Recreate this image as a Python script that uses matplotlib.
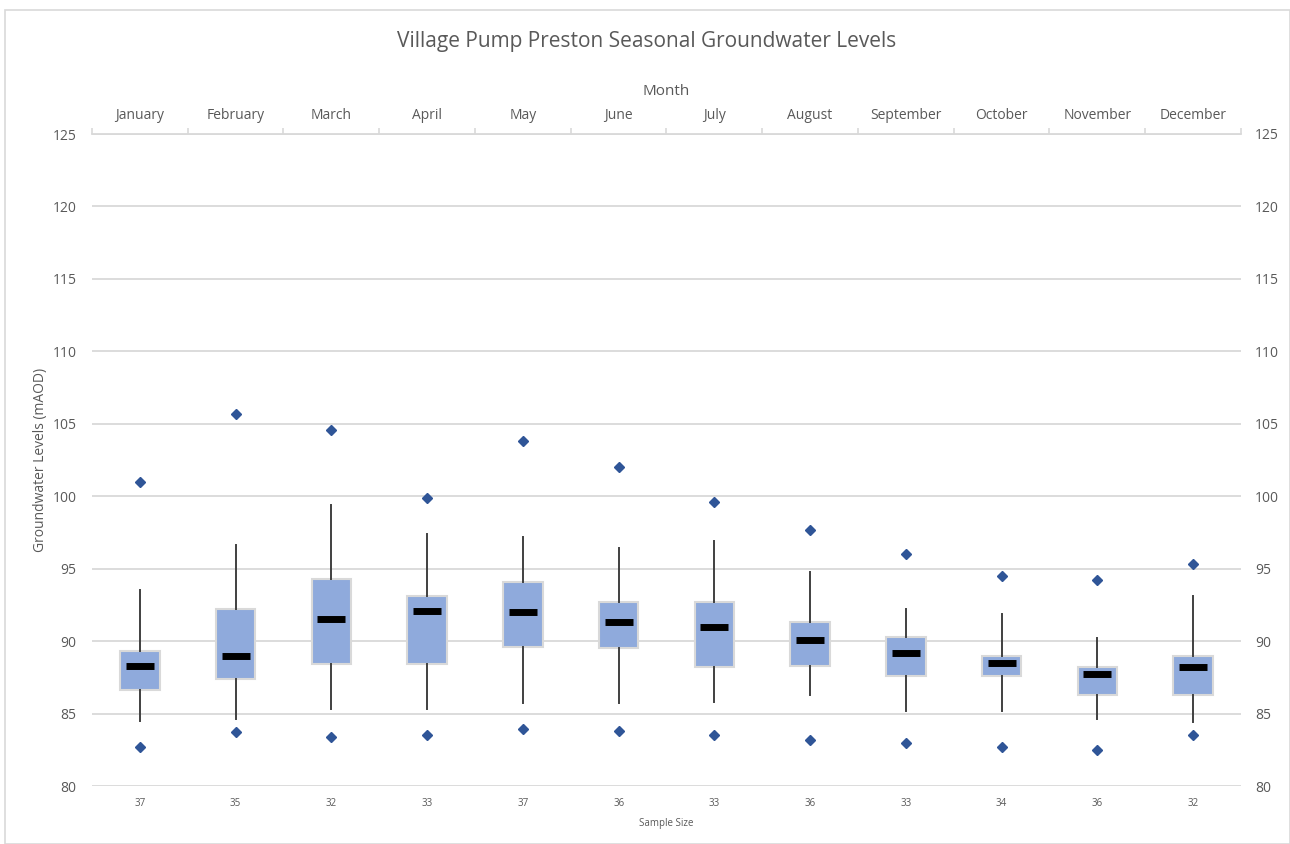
import matplotlib
matplotlib.use("Agg")
import matplotlib.pyplot as plt
from matplotlib.patches import Rectangle

months = ["January", "February", "March", "April", "May", "June", "July",
          "August", "September", "October", "November", "December"]
sample_sizes = [37, 35, 32, 33, 37, 36, 33, 36, 33, 34, 36, 32]
minimum  = [82.7, 83.7, 83.4, 83.5, 83.9, 83.8, 83.5, 83.2, 83.0, 82.7, 82.5, 83.5]
whisk_lo = [84.5, 84.6, 85.3, 85.3, 85.7, 85.7, 85.8, 86.3, 85.2, 85.2, 84.6, 84.4]
q1       = [86.6, 87.4, 88.4, 88.4, 89.6, 89.5, 88.2, 88.3, 87.6, 87.6, 86.3, 86.3]
median   = [88.3, 89.0, 91.5, 92.1, 92.0, 91.3, 91.0, 90.1, 89.2, 88.5, 87.7, 88.2]
q3       = [89.3, 92.2, 94.3, 93.1, 94.1, 92.7, 92.7, 91.3, 90.3, 89.0, 88.2, 89.0]
whisk_hi = [93.5, 96.6, 99.4, 97.4, 97.2, 96.4, 96.9, 94.8, 92.2, 91.9, 90.2, 93.1]
maximum  = [101.0, 105.7, 104.6, 99.9, 103.8, 102.0, 99.6, 97.7, 96.0, 94.5, 94.2, 95.3]
y_ticks = [80, 85, 90, 95, 100, 105, 110, 115, 120, 125]

FONT = "Open Sans"
TXT = "#595959"
GRID = "#D9D9D9"

fig = plt.figure(figsize=(12.9, 8.44), dpi=100)
fig.patches.append(Rectangle((5/1290, 0), 1 - 5/1290, 1 - 10/844, transform=fig.transFigure,
                             fill=False, edgecolor=GRID, linewidth=1.2))
ax = fig.add_axes([92/1290, 1 - 786/844, (1241 - 92)/1290, (786 - 134)/844])

positions = list(range(len(months)))
stats = []
for i in positions:
    stats.append(dict(med=median[i], q1=q1[i], q3=q3[i], whislo=whisk_lo[i],
                      whishi=whisk_hi[i], fliers=[minimum[i], maximum[i]]))

ax.bxp(stats, positions=positions, widths=0.41, patch_artist=True, showcaps=False,
       boxprops=dict(facecolor="#8FAADC", edgecolor=GRID, linewidth=1.5),
       whiskerprops=dict(color="#404040", linewidth=1.4),
       medianprops=dict(linewidth=0),
       flierprops=dict(marker="D", markerfacecolor="#2F5597", markeredgecolor="#2F5597",
                       markersize=5.5, linestyle="none"),
       zorder=3)
ax.hlines(median, [p - 0.145 for p in positions], [p + 0.145 for p in positions],
          colors="black", linewidth=5, zorder=4)

ax.set_xlim(-0.5, len(months) - 0.5)
ax.set_ylim(80, 125)
ax.set_yticks(y_ticks)
ax.yaxis.grid(True, color=GRID, linewidth=1.3, zorder=0)
ax.set_axisbelow(True)
for s in ax.spines.values():
    s.set_visible(False)
ax.tick_params(axis="y", length=0, labelsize=10, labelcolor=TXT, pad=11)
for lab in ax.get_yticklabels():
    lab.set_fontfamily(FONT)

ax.set_xticks(positions)
ax.set_xticklabels([str(n) for n in sample_sizes], fontsize=7, color=TXT, fontfamily=FONT)
ax.tick_params(axis="x", length=0, pad=9)
ax.set_xlabel("Sample Size", fontsize=7, color=TXT, fontfamily=FONT, labelpad=6)
ax.set_ylabel("Groundwater Levels (mAOD)", fontsize=10, color=TXT, fontfamily=FONT)
ax.yaxis.set_label_coords((48 - 92) / 1149, 0.5)

ax_r = ax.secondary_yaxis("right")
ax_r.set_yticks(y_ticks)
ax_r.tick_params(length=0, labelsize=10, labelcolor=TXT, pad=10)
for lab in ax_r.get_yticklabels():
    lab.set_fontfamily(FONT)
for s in ax_r.spines.values():
    s.set_visible(False)

ax_t = ax.secondary_xaxis("top")
ax_t.set_xticks(positions)
ax_t.set_xticklabels(months, fontsize=10, color=TXT, fontfamily=FONT)
ax_t.set_xticks([p - 0.5 for p in positions] + [len(months) - 0.5], minor=True)
ax_t.tick_params(which="major", length=0, pad=8)
ax_t.tick_params(which="minor", length=4, color=GRID, width=1.2, direction="out")
ax_t.spines["top"].set_color(GRID)
ax_t.spines["top"].set_linewidth(1.3)
ax_t.set_xlabel("Month", fontsize=11, color=TXT, fontfamily=FONT, labelpad=9)

fig.text(647/1290, 1 - 41/844, "Village Pump Preston Seasonal Groundwater Levels",
         ha="center", va="center", fontsize=15, color=TXT, fontfamily=FONT)

fig.savefig("out.png", dpi=100)
